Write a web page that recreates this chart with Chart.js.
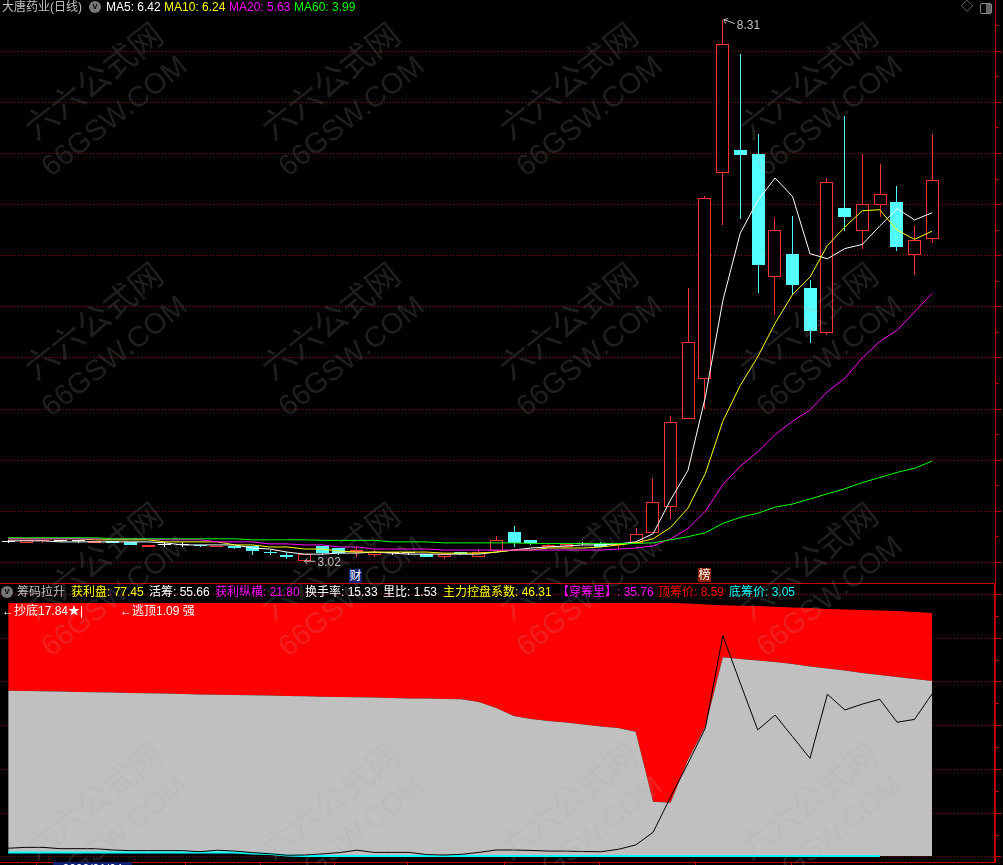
<!DOCTYPE html>
<html>
<head>
<meta charset="utf-8">
<title>大唐药业(日线)</title>
<script src="https://cdn.jsdelivr.net/npm/chart.js@4/dist/chart.umd.min.js"></script>
<style>
  html, body { margin: 0; padding: 0; background: #000; width: 1003px; height: 865px; overflow: hidden; }
  canvas { position: absolute; left: 0; }
  #priceCanvas { top: 0; }
  #chipCanvas { top: 584px; }
  .t { position: absolute; white-space: pre; font: 12px/14px "Liberation Sans", "Noto Sans CJK SC", sans-serif; }
  .wm { position: absolute; white-space: pre; color: rgba(170,170,170,.18); transform-origin: 0 100%; transform: rotate(-38deg); font-family: "Liberation Sans", "Noto Sans CJK SC", sans-serif; }
  .dot { position: absolute; width: 12px; height: 12px; border-radius: 50%; background: #777; color: #111; font: bold 9px/11px "Liberation Sans"; text-align: center; }
</style>
</head>
<body>
<canvas id="priceCanvas" width="1003" height="584"></canvas>
<canvas id="chipCanvas" width="1003" height="281"></canvas>
<script>
// candles
const openPrices = [3.20,3.19,3.21,3.21,3.21,3.19,3.21,3.20,3.15,3.17,3.17,3.17,3.15,3.16,3.15,3.10,3.07,3.02,3.16,3.14,3.10,3.07,3.09,3.09,3.09,3.05,3.10,3.05,3.12,3.29,3.22,3.15,3.14,3.18,3.18,3.17,3.19,3.28,3.54,4.40,4.80,6.81,7.03,6.99,5.79,6.01,5.68,5.24,6.46,6.24,6.49,6.53,6.01,6.17];
const closePrices = [3.20,3.22,3.22,3.21,3.21,3.21,3.19,3.17,3.17,3.17,3.17,3.16,3.16,3.14,3.11,3.09,3.05,3.08,3.09,3.09,3.12,3.10,3.09,3.09,3.06,3.09,3.08,3.10,3.21,3.19,3.19,3.17,3.18,3.18,3.15,3.18,3.27,3.59,4.38,5.15,6.56,8.08,6.99,5.91,6.25,5.71,5.27,6.73,6.37,6.51,6.61,6.09,6.16,6.75];
const highPrices = [3.22,3.22,3.22,3.22,3.22,3.21,3.21,3.20,3.17,3.19,3.19,3.17,3.16,3.16,3.15,3.13,3.10,3.08,3.16,3.14,3.15,3.12,3.10,3.10,3.09,3.09,3.11,3.12,3.26,3.35,3.22,3.17,3.18,3.20,3.20,3.18,3.33,3.82,4.43,5.68,6.59,8.31,7.97,7.20,6.37,6.38,5.76,6.76,7.37,7.00,6.89,6.68,6.29,7.19];
const lowPrices = [3.19,3.19,3.19,3.20,3.19,3.19,3.19,3.17,3.15,3.15,3.15,3.15,3.15,3.13,3.08,3.08,3.04,3.02,3.07,3.07,3.05,3.05,3.07,3.07,3.06,3.04,3.08,3.05,3.12,3.15,3.16,3.14,3.14,3.17,3.15,3.13,3.19,3.28,3.43,4.40,4.50,6.31,6.35,5.64,5.42,5.61,5.14,5.22,6.25,6.07,6.37,6.04,5.81,6.12];

const ma5 = [3.21,3.21,3.21,3.20,3.20,3.20,3.20,3.20,3.20,3.19,3.17,3.17,3.17,3.17,3.14,3.13,3.10,3.08,3.08,3.09,3.09,3.10,3.09,3.08,3.08,3.08,3.08,3.08,3.10,3.12,3.14,3.15,3.16,3.17,3.17,3.18,3.20,3.28,3.61,3.90,4.62,5.56,6.22,6.54,6.76,6.58,6.02,5.97,6.07,6.11,6.29,6.46,6.35,6.42];
const ma10 = [3.23,3.23,3.23,3.23,3.23,3.22,3.22,3.22,3.22,3.20,3.20,3.20,3.20,3.17,3.17,3.15,3.15,3.13,3.13,3.11,3.10,3.10,3.10,3.10,3.10,3.09,3.09,3.09,3.10,3.12,3.12,3.14,3.14,3.14,3.15,3.17,3.19,3.23,3.34,3.53,3.87,4.38,4.73,5.01,5.34,5.62,5.79,6.10,6.28,6.44,6.45,6.25,6.16,6.24];
const ma20 = [3.23,3.23,3.23,3.23,3.23,3.23,3.23,3.23,3.23,3.22,3.22,3.22,3.20,3.20,3.20,3.18,3.18,3.17,3.17,3.15,3.15,3.13,3.13,3.13,3.13,3.12,3.12,3.12,3.12,3.12,3.12,3.12,3.12,3.12,3.12,3.13,3.14,3.16,3.23,3.33,3.50,3.76,3.94,4.08,4.25,4.38,4.49,4.67,4.80,5.00,5.16,5.27,5.45,5.63];
const ma60 = [3.24,3.24,3.24,3.24,3.24,3.24,3.23,3.23,3.23,3.23,3.23,3.23,3.23,3.23,3.22,3.22,3.22,3.22,3.215,3.215,3.215,3.215,3.20,3.20,3.20,3.19,3.19,3.19,3.19,3.19,3.185,3.185,3.185,3.185,3.185,3.185,3.185,3.19,3.22,3.25,3.29,3.38,3.44,3.48,3.54,3.57,3.62,3.67,3.72,3.78,3.83,3.88,3.92,3.99];

// chip pane
const chipTop = [116.1,116.1,116.1,116.1,116.1,116.1,116.1,116.1,116.1,116.1,116.1,116.1,116.1,116.1,116.1,116.1,116.1,116.1,116.1,116.1,116.1,116.1,116.1,116.1,116.1,116.1,116.1,116.1,116.1,116.1,116.1,116.1,116.1,116.1,116.1,116.1,116.1,116.1,116.1,115.9,115.4,115.1,114.9,114.7,114.4,114.1,113.8,113.4,113.1,112.9,112.7,112.5,112.0,111.5];
const chipMid = [76.0,75.9,75.8,75.7,75.4,75.3,75.2,75.0,74.8,74.7,74.5,74.3,74.2,74.1,73.9,73.8,73.6,73.5,73.3,73.1,73.0,72.9,72.7,72.5,72.4,72.2,72.1,70.9,68.1,64.5,63.1,62.2,61.5,60.6,59.6,59.0,57.3,25.3,24.8,44.3,59.6,91.3,90.5,89.8,89.1,88.2,87.1,86.2,85.3,84.1,83.2,82.3,81.4,80.5];
const chipLow = [2.1,2.1,2.1,2.1,2.1,2.1,2.1,2.1,2.1,2.1,2.1,2.1,2.1,2.1,1.6,1.4,0.7,0.5,0.5,0.5,0.5,0.5,0.5,0.5,0.5,0.5,0.5,0.5,0.5,0.5,0.5,0.5,0.5,0.5,0.5,0.5,0.5,0.5,0.5,0.5,0.5,0.5,0.5,0.5,0.5,0.5,0.5,0.5,0.5,0.5,0.5,0.5,0.5,0.5];
const cyanLine = [2.1,2.1,2.1,2.1,2.1,2.1,2.1,2.1,2.1,2.1,2.1,2.1,2.1,2.1,1.6,1.4,0.7,0.5,0.5,0.5,0.5,0.5,0.5,0.5,0.5,0.5,0.5,0.5,0.5,0.5,0.5,0.5,0.5,0.5,0.5,0.5,0.5,0.5,0.5,0.5,0.5,0.5,0.5,0.5,0.5,0.5,0.5,0.5,0.5,0.5,0.5];
const profitLine = [4.0,4.4,4.4,3.8,3.8,3.8,3.2,2.9,2.9,2.9,2.9,2.4,3.1,2.7,2.0,1.5,0.8,0.9,1.4,2.0,3.1,2.1,2.1,2.1,1.1,0.9,1.2,2.1,3.2,3.2,3.0,2.7,2.7,2.5,2.4,3.5,5.5,11.3,27.4,42.8,59.0,101.2,79.5,58.1,64.9,55.0,45.1,74.4,67.2,69.9,72.1,61.6,62.9,74.5];

const priceTicks = [3,3.25,3.5,3.75,4,4.25,4.5,4.75,5,5.25,5.5,5.75,6,6.25,6.5,6.75,7,7.25,7.5,7.75,8,8.25];
const chipTicks = [0,10,20,30,40,50,60,70,80,90,100,110,120];
const dateTicks = [1.65,7.1,10.15,14.45,18.7,22.9,28.45,33.9,39.45,44.96];

const mainLegend = [
  ["大唐药业(日线)", "#c0c0c0", 2, 0],
  ["MA5: 6.42", "#ffffff", 106, 0],
  ["MA10: 6.24", "#ffff00", 164, 0],
  ["MA20: 5.63", "#ff00ff", 229, 0],
  ["MA60: 3.99", "#00ff00", 294, 0],
];
const chipLegend = [
  ["筹码拉升", "#c0c0c0", 17, 585],
  ["获利盘: 77.45", "#ffff00", 71, 585],
  ["活筹: 55.66", "#ffffff", 149, 585],
  ["获利纵横: 21.80", "#ff00ff", 215, 585],
  ["换手率: 15.33", "#ffffff", 305, 585],
  ["里比: 1.53", "#ffffff", 383, 585],
  ["主力控盘系数: 46.31", "#ffff00", 443, 585],
  ["【穿筹里】: 35.76", "#ff00ff", 557, 585],
  ["顶筹价: 8.59", "#ff0000", 658, 585],
  ["底筹价: 3.05", "#00ffff", 729, 585],
  ["←抄底17.84★|", "#ffffff", 2, 604],
  ["←逃顶1.09 强", "#ffffff", 120, 604],
];
const wmCols = [25, 262, 500, 740];
const wmRows = [135, 375, 615, 855];

const RED = "#ff3232", CYAN = "#54ffff", AXIS = "#c00000", DOT = "#8f0000";
const xMin = -0.4705, xMax = 56.615;
const indexes = openPrices.map((_, i) => i);
const xy = (arr) => arr.map((y, x) => ({ x, y }));
const candleColor = (i) => closePrices[i] > openPrices[i] ? RED : closePrices[i] < openPrices[i] ? CYAN : "#ffffff";

// keep the thin bars on whole even pixels so the 1px red edges stay red
const snapBars = {
  id: "snapBars",
  beforeDatasetDraw(chart, args) {
    if (args.meta.type !== "bar") return;
    args.meta.data.forEach((el) => {
      el.x = 2 * Math.round((el.x - 0.5) / 2) + 0.5;
      const top = Math.min(el.y, el.base), bottom = Math.max(el.y, el.base);
      if (bottom - top > 3) {
        el.y = 2 * Math.round(top / 2);
        el.base = 2 * Math.round((bottom - 1) / 2) + 1;
      } else {
        el.y = Math.round(el.y);
        el.base = Math.round(el.base);
      }
    });
  },
};

const priceTags = {
  id: "priceTags",
  afterDatasetsDraw(chart) {
    const { ctx, scales } = chart;
    const hi = Math.max(...highPrices), lo = Math.min(...lowPrices);
    const hx = scales.x.getPixelForValue(highPrices.indexOf(hi)), hy = scales.y.getPixelForValue(hi);
    const lx = scales.x.getPixelForValue(lowPrices.indexOf(lo)), ly = scales.y.getPixelForValue(lo);
    ctx.save();
    ctx.fillStyle = "#c0c0c0";
    ctx.strokeStyle = "#c0c0c0";
    ctx.font = '12px "Liberation Sans"';
    ctx.textBaseline = "middle";
    ctx.fillText(hi.toFixed(2), hx + 14, hy + 6);
    ctx.fillText(lo.toFixed(2), lx + 13, ly + 2);
    ctx.lineWidth = 1;
    ctx.beginPath();
    ctx.moveTo(hx + 1, hy); ctx.lineTo(hx + 12, hy + 4);
    ctx.moveTo(hx + 1, hy); ctx.lineTo(hx + 5, hy - 1);
    ctx.moveTo(hx + 1, hy); ctx.lineTo(hx + 3, hy + 4);
    ctx.moveTo(lx, ly + 1); ctx.lineTo(lx + 11, ly + 1);
    ctx.moveTo(lx, ly + 1); ctx.lineTo(lx + 3, ly - 2);
    ctx.moveTo(lx, ly + 1); ctx.lineTo(lx + 3, ly + 4);
    ctx.stroke();
    ctx.restore();
  },
};

const rightAxis = (min, max, values, isMajor, width) => ({
  type: "linear",
  position: "right",
  min,
  max,
  afterBuildTicks: (s) => { s.ticks = values.map((value) => ({ value })); },
  afterFit: (s) => { s.width = 8; },
  ticks: { display: false },
  border: { color: AXIS, width, dash: [1, 2] },
  grid: {
    color: (c) => isMajor(c.tick.value) ? DOT : "rgba(0,0,0,0)",
    tickColor: AXIS,
    tickLength: 6,
    tickBorderDash: (c) => isMajor(c.tick.value) ? [] : [3, 6],
  },
});

const lineSet = (data, color, order) => ({
  type: "line", data: xy(data), borderColor: color, borderWidth: 1, pointRadius: 0, tension: 0, order,
});

new Chart(document.getElementById("priceCanvas").getContext("2d"), {
  plugins: [snapBars, priceTags],
  data: {
    datasets: [
      lineSet(ma5, "#ffffff", 4),
      lineSet(ma10, "#ffff00", 3),
      lineSet(ma20, "#ff00ff", 2),
      lineSet(ma60, "#00ff00", 1),
      {
        type: "bar",
        data: indexes.map((x) => ({ x, y: [openPrices[x], closePrices[x]] })),
        barThickness: 13,
        minBarLength: 1,
        inflateAmount: 0,
        grouped: false,
        borderSkipped: false,
        borderWidth: 1,
        borderColor: indexes.map(candleColor),
        backgroundColor: indexes.map((i) => closePrices[i] > openPrices[i] ? "#000000" : candleColor(i)),
        order: 5,
      },
      {
        type: "bar",
        data: indexes.map((x) => ({ x, y: [lowPrices[x], highPrices[x]] })),
        barThickness: 1,
        inflateAmount: 0,
        grouped: false,
        borderWidth: 0,
        backgroundColor: indexes.map(candleColor),
        order: 6,
      },
    ],
  },
  options: {
    responsive: false,
    animation: false,
    devicePixelRatio: 1,
    layout: { padding: 0 },
    plugins: { legend: { display: false }, tooltip: { enabled: false } },
    scales: {
      x: {
        type: "linear", min: xMin, max: xMax,
        afterBuildTicks: (s) => { s.ticks = []; },
        afterFit: (s) => { s.height = 1; },
        ticks: { display: false },
        grid: { display: false },
        border: { color: AXIS },
      },
      y: rightAxis(2.7975, 8.502, priceTicks, (v) => Math.round(v * 100) % 50 === 0, 1),
    },
  },
});

new Chart(document.getElementById("chipCanvas").getContext("2d"), {
  data: {
    datasets: [
      { ...lineSet(chipLow, "#c0c0c0", 5), borderWidth: 0 },
      { ...lineSet(chipMid, "#c0c0c0", 3), borderWidth: 0, fill: 0, backgroundColor: "#c0c0c0" },
      { ...lineSet(chipTop, "#ff0000", 4), borderWidth: 0, fill: 1, backgroundColor: "#ff0000" },
      { ...lineSet(cyanLine, "#00ffff", 2), borderWidth: 2 },
      lineSet(profitLine, "#000000", 1),
    ],
  },
  options: {
    responsive: false,
    animation: false,
    devicePixelRatio: 1,
    layout: { padding: 0 },
    plugins: { legend: { display: false }, tooltip: { enabled: false } },
    scales: {
      x: {
        type: "linear", min: xMin, max: xMax,
        afterBuildTicks: (s) => { s.ticks = dateTicks.map((value) => ({ value })); },
        afterFit: (s) => { s.height = 3; },
        ticks: { display: false },
        border: { color: AXIS },
        grid: { drawOnChartArea: false, tickColor: AXIS, tickLength: 3 },
      },
      y: rightAxis(-2.29, 124.8, chipTicks, (v) => v % 20 === 0, 2),
    },
  },
});

// texts and watermark
function addText(parent, text, color, x, y, cls) {
  const el = document.createElement("div");
  el.className = cls || "t";
  el.textContent = text;
  el.style.left = x + "px";
  el.style.top = y + "px";
  if (color) el.style.color = color;
  parent.appendChild(el);
  return el;
}
wmRows.forEach((row) => wmCols.forEach((col) => {
  addText(document.body, "六六公式网", null, col + 17, row - 34, "wm").style.fontSize = "33px";
  addText(document.body, "66GSW.COM", null, col + 30, row + 15, "wm").style.fontSize = "29px";
}));
[...mainLegend, ...chipLegend].forEach(([text, color, x, y]) => addText(document.body, text, color, x, y));

addText(document.body, "v", null, 89, 1, "dot");
addText(document.body, "v", null, 1, 586, "dot");
addText(document.body, "◇", "#888888", 961, 0);

const finBadge = addText(document.body, "财", "#ffffff", 349, 569);
finBadge.style.background = "#102070";
finBadge.style.width = "13px";
finBadge.style.textAlign = "center";
const rankBadge = addText(document.body, "榜", "#ffffff", 698, 568);
rankBadge.style.background = "#8a2000";
rankBadge.style.width = "13px";
rankBadge.style.textAlign = "center";

const winIcon = document.createElement("div");
winIcon.style.cssText = "position:absolute;left:980px;top:3px;width:10px;height:9px;border:1px solid #888;border-radius:2px;background:linear-gradient(90deg,#000 50%,#666 50%)";
document.body.appendChild(winIcon);

const dateBox = document.createElement("div");
dateBox.style.cssText = 'position:absolute;left:53px;top:862px;width:79px;height:3px;overflow:hidden;background:#102070;color:#fff;text-align:center;font:12px/14px "Liberation Sans"';
dateBox.textContent = "2022/01/04";
document.body.appendChild(dateBox);
</script>
</body>
</html>
